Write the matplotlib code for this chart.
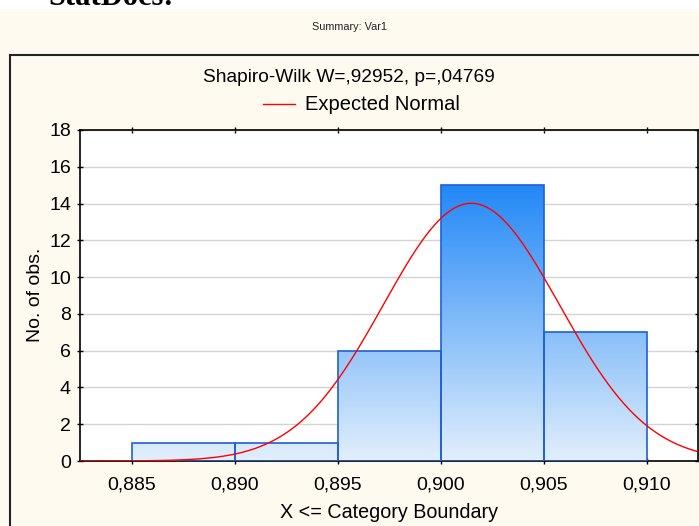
import numpy as np
import matplotlib
matplotlib.use("Agg")
import matplotlib.pyplot as plt
from matplotlib.patches import Rectangle
from matplotlib.colors import LinearSegmentedColormap
from matplotlib.lines import Line2D

# histogram data (bin edges / counts)
bin_edges = [0.885, 0.890, 0.895, 0.900, 0.905, 0.910]
counts = [1, 1, 6, 15, 7]
x_ticks = [0.885, 0.890, 0.895, 0.900, 0.905, 0.910]
x_labels = ["0,885", "0,890", "0,895", "0,900", "0,905", "0,910"]
y_ticks = [0, 2, 4, 6, 8, 10, 12, 14, 16, 18]
# expected normal parameters
mu = 0.9015
sigma = 0.00427

plt.rcParams['font.family'] = ['Liberation Sans', 'DejaVu Sans']
W, H = 699, 526
cream = "#fefaef"

fig = plt.figure(figsize=(W / 100, H / 100), dpi=100, facecolor=cream)

# white strip at very top, with cut-off heading
fig.patches.append(Rectangle((0, 1 - 9 / H), 1, 9 / H, transform=fig.transFigure,
                             facecolor="white", edgecolor="none", zorder=0))
fig.text(48 / W, 1 - 5 / H, "StatDocs:", fontsize=22, family="Liberation Serif",
         weight="bold", va="baseline", ha="left", color="black")

fig.text(349 / W, 1 - 27 / H, "Summary: Var1", fontsize=7.8, ha="center", va="center",
         color="#222222")

# outer frame
fig.patches.append(Rectangle((10 / W, -0.1), 1.2, 1 - 55 / H + 0.1, transform=fig.transFigure,
                             facecolor="none", edgecolor="#222222", lw=1.5, zorder=1))

fig.text(349 / W, 1 - 78 / H, "Shapiro-Wilk W=,92952, p=,04769", fontsize=13.8,
         ha="center", va="center")
fig.add_artist(Line2D([263 / W, 295 / W], [1 - 104 / H, 1 - 104 / H], color="red", lw=1,
                      transform=fig.transFigure))
fig.text(305 / W, 1 - 104 / H, "Expected Normal", fontsize=14.5, ha="left", va="center")

ax = fig.add_axes([80 / W, 1 - 461 / H, (698 - 80) / W, (461 - 130) / H])
ax.set_facecolor("white")
ax.set_xlim(0.8825, 0.9125)
ax.set_ylim(0, 18)

ax.set_yticks(y_ticks)
ax.set_xticks(x_ticks)
ax.set_xticklabels(x_labels)
ax.grid(axis="y", color="#d4d4d4", lw=1)
ax.set_axisbelow(True)
ax.tick_params(axis="both", which="both", direction="inout", length=5, width=1,
               labelsize=14, top=True, right=True)
ax.tick_params(axis="x", pad=9)
ax.tick_params(axis="y", pad=4)
for s in ax.spines.values():
    s.set_linewidth(1.2)
    s.set_color("black")

cmap = LinearSegmentedColormap.from_list("bl", ["#e2effc", "#2288f6"])
grad = np.linspace(0, 1, 256).reshape(-1, 1)
ymax = max(counts)
for i, c in enumerate(counts):
    left, right = bin_edges[i], bin_edges[i + 1]
    rect = Rectangle((left, 0), right - left, c, facecolor="none",
                     edgecolor="#1f5fd6", lw=1.2, zorder=3)
    ax.add_patch(rect)
    im = ax.imshow(grad, extent=[left, right, 0, ymax], origin="lower", cmap=cmap,
                   aspect="auto", zorder=2, interpolation="bilinear")
    im.set_clip_path(rect)

xs = np.linspace(0.8825, 0.9125, 400)
binw = bin_edges[1] - bin_edges[0]
ys = sum(counts) * binw / (sigma * np.sqrt(2 * np.pi)) * np.exp(-0.5 * ((xs - mu) / sigma) ** 2)
ax.plot(xs, ys, color="red", lw=1, zorder=4)

fig.text(389 / W, 1 - 512 / H, "X <= Category Boundary", fontsize=14.2, ha="center", va="center")
fig.text(35 / W, 1 - 295 / H, "No. of obs.", fontsize=14, ha="center", va="center",
         rotation=90)

fig.savefig("out.png", dpi=100, facecolor=cream)
